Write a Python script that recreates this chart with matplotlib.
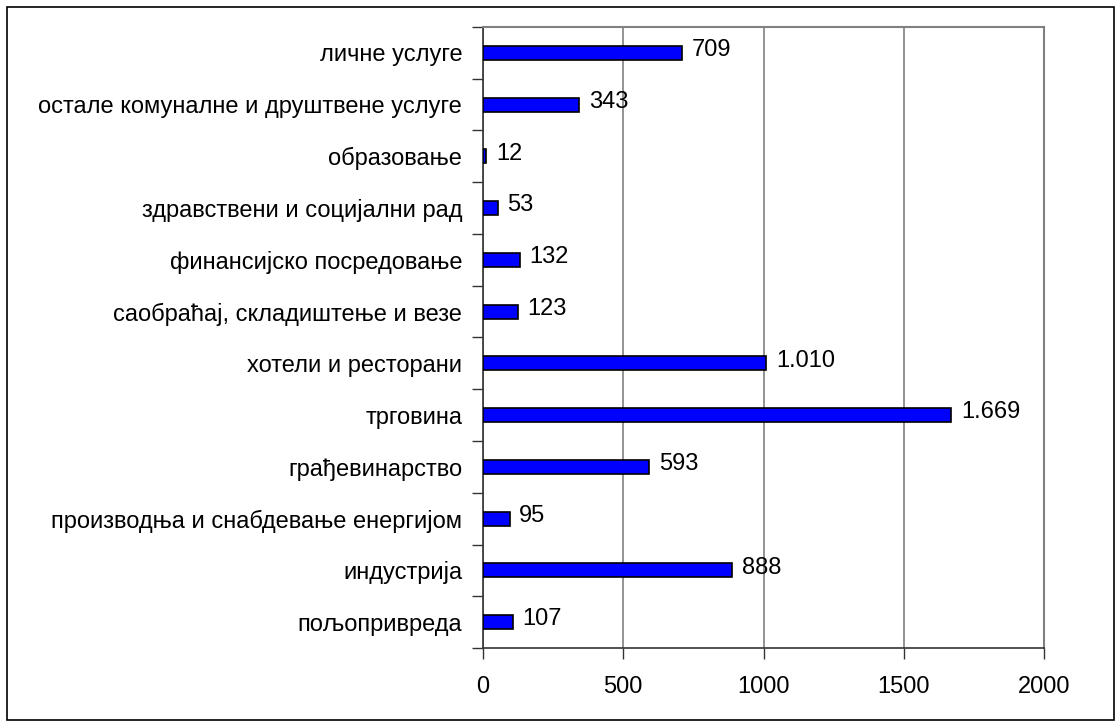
import matplotlib
matplotlib.use("Agg")
import matplotlib.pyplot as plt
from matplotlib.patches import Rectangle

categories = ["пољопривреда", "индустрија", "производња и снабдевање енергијом",
              "грађевинарство", "трговина", "хотели и ресторани",
              "саобраћај, складиштење и везе", "финансијско посредовање",
              "здравствени и социјални рад", "образовање",
              "остале комуналне и друштвене услуге", "личне услуге"]
values = [107, 888, 95, 593, 1669, 1010, 123, 132, 53, 12, 343, 709]
value_labels = ["107", "888", "95", "593", "1.669", "1.010", "123", "132", "53", "12", "343", "709"]
xticks = [0, 500, 1000, 1500, 2000]

plt.rcParams['font.family'] = ['Liberation Sans', 'DejaVu Sans']
W, H = 1120, 727
fig = plt.figure(figsize=(W/100, H/100), dpi=100)
ax = fig.add_axes([483/W, 1-648/H, (1044-483)/W, (648-27)/H])

# outer border
fig.patches.append(Rectangle((7/W, 7/H), (1114-7)/W, (720-7)/H, transform=fig.transFigure,
                             fill=False, edgecolor='black', linewidth=1.2))

FS = 17
y = list(range(len(categories)))
ax.barh(y, values, height=0.27, color='#0000FF', edgecolor='black', linewidth=1.2, zorder=3)
for yi, v, lab in zip(y, values, value_labels):
    ax.annotate(lab, (v, yi), xytext=(7, 2), textcoords='offset points',
                va='center', ha='left', fontsize=FS, zorder=4)

ax.set_xlim(0, 2000)
ax.set_ylim(-0.5, len(categories) - 0.5)
ax.set_xticks(xticks)
ax.set_xticklabels([str(t) for t in xticks], fontsize=FS)
ax.set_yticks(y)
ax.set_yticklabels(categories, fontsize=FS)
ax.set_yticks([i - 0.5 for i in range(len(categories) + 1)], minor=True)
ax.tick_params(axis='y', which='major', length=0, pad=15)
ax.tick_params(axis='y', which='minor', length=8, width=1, color='#333333', direction='out')
ax.tick_params(axis='x', length=8, width=1, color='#333333', direction='out', pad=12)
ax.grid(axis='x', color='#808080', linewidth=1.2, zorder=0)
for s in ['top', 'right']:
    ax.spines[s].set_color('#808080')
    ax.spines[s].set_linewidth(1.5)
for s in ['left', 'bottom']:
    ax.spines[s].set_color('#333333')
    ax.spines[s].set_linewidth(1.2)

fig.savefig("out.png", dpi=100)
